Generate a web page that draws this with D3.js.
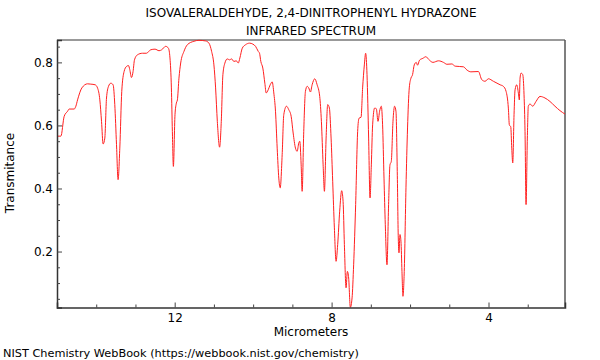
<!DOCTYPE html>
<html><head><meta charset="utf-8">
<script src="https://cdn.jsdelivr.net/npm/d3@7"></script>
<style>body{margin:0;background:#fff;font-family:"DejaVu Sans",sans-serif;}</style>
</head><body><svg id="c" width="600" height="360"></svg>
<script>
const wavelength = [14.977,14.901,14.817,14.730,14.690,14.562,14.519,14.476,14.366,14.221,14.137,14.028,13.967,13.908,13.865,13.824,13.781,13.738,13.687,13.628,13.570,13.527,13.483,13.443,13.399,13.349,13.290,13.229,13.178,13.145,13.102,13.061,13.025,12.949,12.822,12.720,12.611,12.501,12.399,12.331,12.229,12.160,12.120,12.084,12.059,12.033,11.992,11.957,11.931,11.891,11.847,11.763,11.677,11.509,11.382,11.211,11.127,11.059,11.000,10.957,10.913,10.855,10.812,10.771,10.720,10.659,10.601,10.550,10.491,10.430,10.379,10.338,10.277,10.193,10.092,10.008,9.939,9.870,9.837,9.804,9.753,9.702,9.667,9.616,9.565,9.514,9.473,9.430,9.387,9.346,9.310,9.260,9.219,9.150,9.092,9.031,8.980,8.921,8.878,8.837,8.812,8.776,8.751,8.710,8.667,8.623,8.583,8.539,8.496,8.430,8.369,8.303,8.260,8.216,8.183,8.140,8.099,8.056,8.013,7.972,7.929,7.886,7.845,7.794,7.743,7.707,7.674,7.631,7.598,7.565,7.522,7.478,7.438,7.387,7.336,7.300,7.249,7.209,7.165,7.132,7.097,7.056,7.020,6.987,6.954,6.903,6.860,6.817,6.776,6.733,6.700,6.664,6.631,6.588,6.547,6.512,6.478,6.435,6.394,6.359,6.326,6.300,6.282,6.257,6.232,6.206,6.181,6.148,6.104,6.064,6.020,5.977,5.936,5.893,5.842,5.809,5.758,5.672,5.595,5.529,5.417,5.275,5.148,5.061,4.934,4.850,4.639,4.552,4.450,4.257,4.171,4.087,4.003,3.875,3.705,3.621,3.552,3.494,3.468,3.433,3.407,3.382,3.349,3.323,3.280,3.239,3.214,3.196,3.170,3.127,3.094,3.069,3.043,3.010,2.985,2.941,2.873,2.789,2.687,2.560,2.433,2.306,2.178,2.051];
const transmittance = [0.566,0.566,0.629,0.645,0.652,0.652,0.661,0.681,0.719,0.732,0.731,0.729,0.719,0.681,0.613,0.541,0.560,0.687,0.724,0.734,0.729,0.666,0.539,0.428,0.528,0.708,0.771,0.787,0.790,0.777,0.752,0.771,0.808,0.824,0.829,0.829,0.840,0.842,0.837,0.840,0.851,0.845,0.814,0.719,0.581,0.470,0.634,0.671,0.681,0.750,0.798,0.835,0.856,0.867,0.870,0.868,0.861,0.835,0.792,0.719,0.613,0.531,0.613,0.761,0.798,0.811,0.808,0.811,0.803,0.805,0.798,0.814,0.845,0.856,0.861,0.858,0.851,0.835,0.829,0.803,0.782,0.734,0.703,0.713,0.729,0.738,0.703,0.645,0.528,0.433,0.402,0.507,0.634,0.661,0.650,0.629,0.576,0.528,0.518,0.544,0.550,0.475,0.391,0.581,0.708,0.724,0.719,0.706,0.729,0.748,0.729,0.692,0.613,0.475,0.391,0.560,0.666,0.655,0.560,0.423,0.275,0.169,0.222,0.328,0.393,0.359,0.222,0.085,0.137,0.116,0.023,0.053,0.158,0.349,0.581,0.623,0.626,0.719,0.792,0.829,0.761,0.560,0.370,0.475,0.602,0.655,0.653,0.613,0.645,0.661,0.602,0.433,0.285,0.158,0.349,0.475,0.486,0.613,0.661,0.645,0.454,0.243,0.196,0.254,0.233,0.137,0.058,0.137,0.402,0.592,0.719,0.750,0.761,0.792,0.800,0.791,0.807,0.813,0.818,0.810,0.800,0.805,0.800,0.794,0.795,0.788,0.786,0.776,0.770,0.771,0.745,0.740,0.748,0.740,0.729,0.724,0.708,0.655,0.601,0.596,0.528,0.481,0.634,0.713,0.729,0.703,0.681,0.750,0.766,0.761,0.697,0.581,0.349,0.560,0.661,0.668,0.661,0.676,0.692,0.687,0.676,0.661,0.647,0.636];
const xMajorTicks = [12, 8, 4];
const xMinorTicks = [15,14,13,11,10,9,7,6,5,3];
const yMajorTicks = [0.2, 0.4, 0.6, 0.8];
const yMinorTicks = [0.05,0.1,0.15,0.25,0.3,0.35,0.45,0.5,0.55,0.65,0.7,0.75,0.85];
const titleLines = ["ISOVALERALDEHYDE, 2,4-DINITROPHENYL HYDRAZONE", "INFRARED SPECTRUM"];
const xLabel = "Micrometers", yLabel = "Transmitance";
const footer = "NIST Chemistry WebBook (https://webbook.nist.gov/chemistry)";

const svg = d3.select("#c");
const L = 57, R = 565, T = 40, B = 307.5;
const x = d3.scaleLinear().domain([15, 2.05]).range([L, R]);
const y = d3.scaleLinear().domain([0.0225, 0.871]).range([B, T]);
const font = "DejaVu Sans, sans-serif";

svg.append("g").selectAll("text").data(titleLines).join("text")
  .attr("x", 311).attr("y", (d,i) => 17 + i*18).attr("text-anchor","middle")
  .attr("font-family", font).attr("font-size", 12).attr("fill","#000").text(d => d);

// frame
svg.append("line").attr("x1",L).attr("x2",R).attr("y1",T).attr("y2",T).attr("stroke","#999").attr("stroke-width",2);
svg.append("line").attr("x1",R).attr("x2",R).attr("y1",T).attr("y2",B).attr("stroke","#555").attr("stroke-width",1.5);

const data = wavelength.map((w,i) => [w, transmittance[i]]);
svg.append("path").datum(data)
  .attr("d", d3.line().x(d => x(d[0])).y(d => y(d[1])).curve(d3.curveMonotoneX))
  .attr("fill","none").attr("stroke","#ff2020").attr("stroke-width",1);

// x axis
const gx = svg.append("g").attr("transform", `translate(0,${B})`);
gx.call(d3.axisBottom(x).tickValues(xMajorTicks).tickSize(-5).tickPadding(6).tickFormat(d3.format("d")));
gx.append("g").call(d3.axisBottom(x).tickValues(xMinorTicks).tickSize(-3).tickFormat(""));
// y axis
const gy = svg.append("g").attr("transform", `translate(${L},0)`);
gy.call(d3.axisLeft(y).tickValues(yMajorTicks).tickSize(-5).tickPadding(4).tickFormat(d3.format(".1f")));
gy.append("g").call(d3.axisLeft(y).tickValues(yMinorTicks).tickSize(-3).tickFormat(""));
svg.selectAll(".domain").attr("stroke","#333").attr("stroke-width",1.5);
gx.selectAll(".tick line").attr("stroke","#444");
gy.selectAll(".tick line").attr("stroke","#444");
svg.selectAll(".tick text").attr("font-family", font).attr("font-size", 12).attr("fill","#000");
gx.selectAll("g > g").selectAll(".domain").remove();
gy.selectAll("g > g").selectAll(".domain").remove();

svg.append("text").attr("x", 311).attr("y", 336).attr("text-anchor","middle")
  .attr("font-family", font).attr("font-size", 12).text(xLabel);
svg.append("text").attr("transform","translate(14,173) rotate(-90)").attr("text-anchor","middle")
  .attr("font-family", font).attr("font-size", 12).text(yLabel);
svg.append("text").attr("x", 3).attr("y", 357)
  .attr("font-family", font).attr("font-size", 11.3).text(footer);
</script></body></html>
